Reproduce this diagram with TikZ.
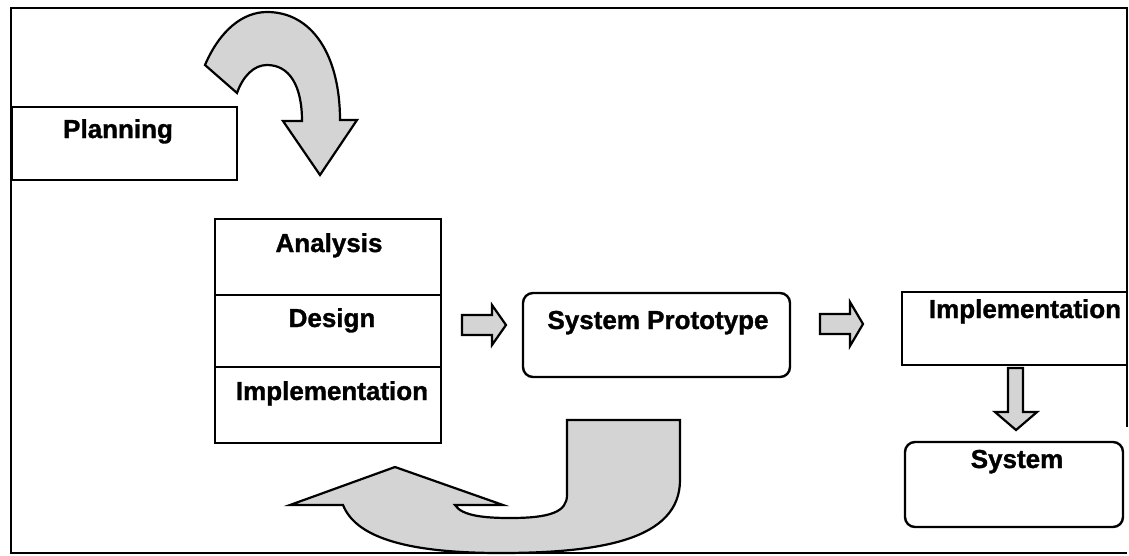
\documentclass[tikz,border=0pt]{standalone}
\usepackage{fontspec}
\setmainfont{Liberation Sans}
\newfontfamily\lblfont[FakeBold=1.2]{Liberation Sans Bold}
\begin{document}
\begin{tikzpicture}[x=1pt,y=-1pt,
  box/.style={draw,line width=2.4pt,inner sep=0pt,outer sep=0pt},
  rbox/.style={box,rounded corners=10pt},
  lbl/.style={anchor=base,inner sep=0pt,font=\fontsize{26}{30}\lblfont},
  blockarrow/.style={draw,line width=2.2pt,fill=black!17,line join=miter}]
\useasboundingbox (0,0) rectangle (1129,555);

% outer frame
\draw[line width=2.8pt] (1127,427) -- (1127,8) -- (11,8) -- (11,553) -- (1127,553);

% boxes
\node[box,minimum width=225pt,minimum height=73pt] (plan) at (124.5,143.5) {};
\node[box,minimum width=226pt,minimum height=76pt] (ana) at (328,257) {};
\node[box,minimum width=226pt,minimum height=72pt] (des) at (328,331) {};
\node[box,minimum width=226pt,minimum height=76pt] (imp) at (328,405) {};
\node[rbox,minimum width=267pt,minimum height=84pt] (proto) at (656.5,335) {};
\node[box,minimum width=225pt,minimum height=73pt] (impl) at (1014.5,328.5) {};
\node[rbox,minimum width=218pt,minimum height=85pt] (sys) at (1014,484.5) {};

% labels
\node[lbl] (tplan) at (118,138) {Planning};
\node[lbl] (tana) at (329,252) {Analysis};
\node[lbl] (tdes) at (332,327) {Design};
\node[lbl] (timp) at (332,400) {Implementation};
\node[lbl] (tproto) at (658,329) {System Prototype};
\node[lbl] (timpl) at (1025,318) {Implementation};
\node[lbl] (tsys) at (1017,468) {System};

% block arrows between the stages
\draw[blockarrow] (462,315) -- (492,315) -- (492,305) -- (506,325) -- (492,345)
  -- (492,335) -- (462,335) -- cycle;
\draw[blockarrow] (820,314) -- (850,314) -- (850,302) -- (863,324) -- (850,346)
  -- (850,334) -- (820,334) -- cycle;
\draw[blockarrow] (1008,368) -- (1023,368) -- (1023,412) -- (1037,412) -- (1016,430)
  -- (995,412) -- (1008,412) -- cycle;

% curved arrow from planning down into the stack
\draw[blockarrow] (205,65) .. controls (220,30) and (243,12) .. (267,12)
  .. controls (312,12) and (340,55) .. (340,120)
  -- (357,120) -- (320,175) -- (283,121) -- (302,121)
  .. controls (302,85) and (289,65) .. (267,65)
  .. controls (254,65) and (243,76) .. (237,93) -- cycle;

% hook arrow looping back under the stack
\draw[blockarrow] (567,420) -- (680,420) -- (680,480)
  .. controls (680,540) and (600,553) .. (500,553)
  .. controls (400,553) and (355,535) .. (343,505)
  -- (290,505) -- (395,467) -- (503,505) -- (455,505)
  .. controls (462,516) and (485,518) .. (510,518)
  .. controls (550,518) and (567,512) .. (567,495) -- cycle;
\end{tikzpicture}
\end{document}
